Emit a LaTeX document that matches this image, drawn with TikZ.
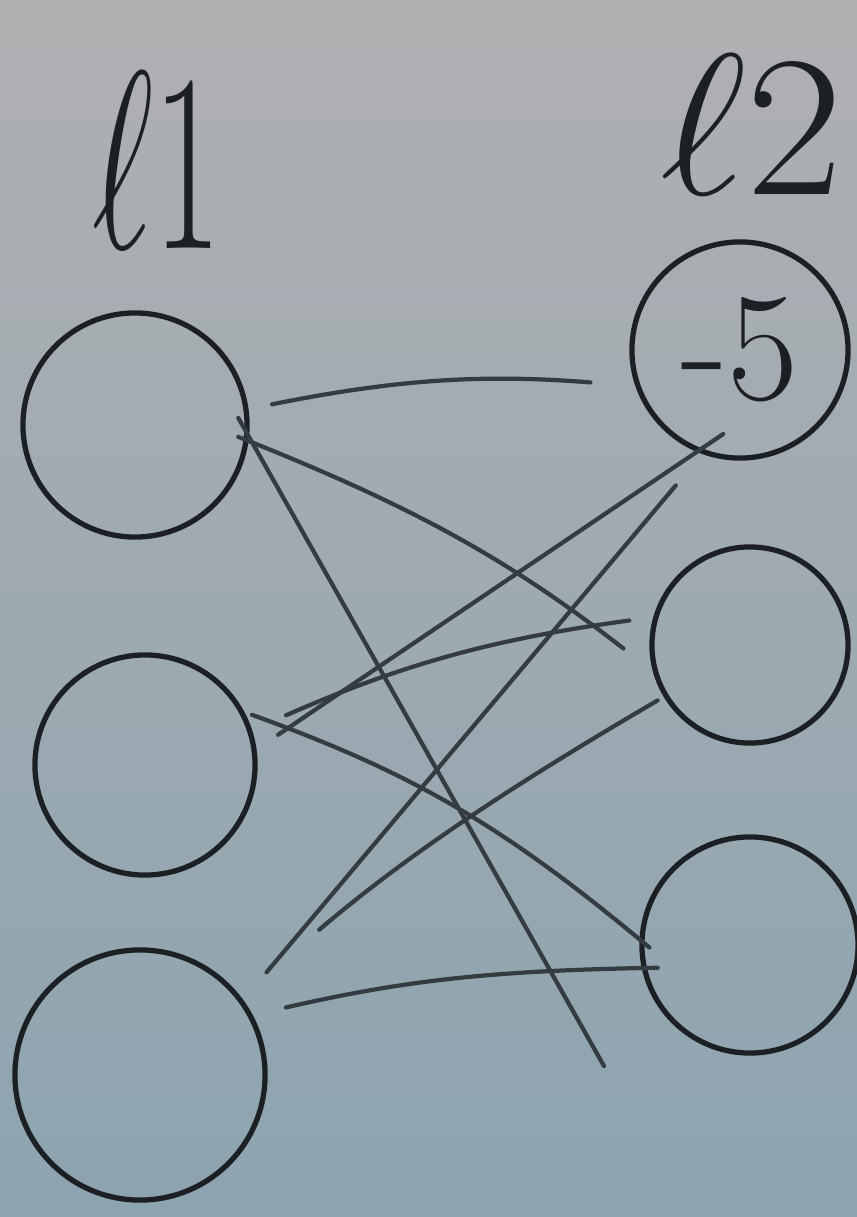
\documentclass[tikz,border=0pt]{standalone}
\usepackage{amsmath,amssymb}
\usepackage{graphicx}
\usepackage{tikz}
\usepackage{xcolor}
\definecolor{paper}{RGB}{176,176,178}
\definecolor{paperblue}{RGB}{140,164,176}
\definecolor{ink}{RGB}{28,32,36}
\definecolor{pencil}{RGB}{52,60,66}

\begin{document}
\begin{tikzpicture}[x=0.01cm,y=0.01cm,
	vertex/.style={circle, draw=ink, line width=1.5pt, inner sep=0pt, text=ink},
	edge/.style={draw=pencil, line width=1.2pt, line cap=round}]
	\shade[top color=paper, bottom color=paperblue] (0,0) rectangle (857,-1217);
	\useasboundingbox (0,0) rectangle (857,-1217);
	% column labels
	\node[text=ink, font=\Huge] (l1) at (157,-160) {\scalebox{1.7}[2.9]{$\ell1$}};
	\node[text=ink, font=\Huge] (l2) at (752,-125) {\scalebox{2.4}[2.3]{$\ell2$}};
	% left column
	\node[vertex, minimum size=2.24cm] (a1) at (135,-425) {};
	\node[vertex, minimum size=2.2cm] (a2) at (145,-765) {};
	\node[vertex, minimum size=2.5cm] (a3) at (140,-1075) {};
	% right column
	\node[vertex, minimum size=2.16cm] (b1) at (740,-350) {\fontsize{44}{44}\selectfont -5};
	\node[vertex, minimum size=1.96cm] (b2) at (750,-645) {};
	\node[vertex, minimum size=2.16cm] (b3) at (750,-945) {};
	\coordinate (b3tail) at (604,-1066);
	% every left vertex to every right vertex
	\foreach \src/\sa/\ss/\dst/\da/\ds/\bend in
	{
		a1/8/0.24/b1/199/0.45/8,
		a1/-8/-0.11/b2/195/0.37/8,
		a2/8/0.26/b1/247/-0.32/0,
		a2/18/0.37/b2/164/0.24/8,
		a2/28/0.08/b3/177/-0.13/10,
		a3/36/0.36/b1/250/0.41/0,
		a3/38/1.03/b2/211/0.07/5,
		a3/28/0.34/b3/192/-0.16/6
	}
	{
		\draw[edge, shorten <=\ss cm, shorten >=\ds cm] (\src.\sa) to[bend left=\bend] (\dst.\da);
	}
	\draw[edge, shorten <=-0.22cm] (a1.-6) -- (b3tail);
\end{tikzpicture}
\end{document}
